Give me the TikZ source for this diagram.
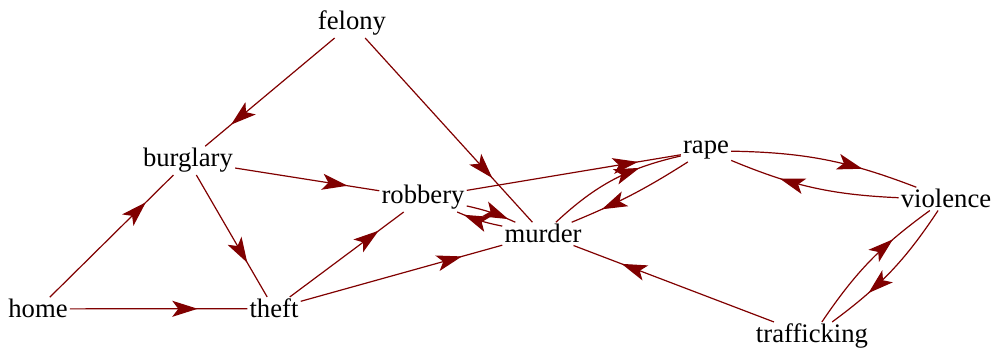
\documentclass[tikz,border=0pt]{standalone}
\usepackage{fontspec}
\setmainfont{Liberation Serif}
\usetikzlibrary{arrows.meta,decorations.markings}
\definecolor{edgered}{RGB}{128,0,0}
\tikzset{
  crime/.style={inner sep=1.5pt, anchor=base, font=\fontsize{20}{24}\selectfont},
  link/.style={color=edgered, line width=0.9pt, postaction={decorate},
    decoration={markings, mark=at position #1 with {\arrow{Stealth[length=19pt,width=12pt,inset=4.5pt]}}}},
  link/.default=0.78
}

\begin{document}
\begin{tikzpicture}[x=0.75pt, y=-0.75pt]
  \useasboundingbox (0,0) rectangle (992,352);
  % crimes
  \node[crime] (felony) at (352,30) {felony};
  \node[crime] (burglary) at (188,167) {burglary};
  \node[crime] (robbery) at (423,204) {robbery};
  \node[crime] (murder) at (543,243) {murder};
  \node[crime] (rape) at (706,154) {rape};
  \node[crime] (violence) at (946,208) {violence};
  \node[crime] (home) at (38,318) {home};
  \node[crime] (theft) at (274,318) {theft};
  \node[crime] (trafficking) at (812,343) {trafficking};
  % links
  \draw[link=0.8] (felony) -- (burglary);
  \draw[link=0.76] (felony) -- (murder);
  \draw[link] (home) -- (burglary);
  \draw[link=0.72] (home) -- (theft);
  \draw[link=0.72] (burglary) -- (theft);
  \draw[link] (burglary) -- (robbery);
  \draw[link] (theft) -- (robbery);
  \draw[link=0.8] (theft) -- (murder);
  \draw[link=0.85] (robbery) to[bend left=6] (murder);
  \draw[link=0.85] (murder) to[bend left=6] (robbery);
  \draw[link=0.8] (robbery) -- (rape);
  \draw[link=0.7] (murder) to[bend left=15] (rape);
  \draw[link=0.75] (rape) to[bend left=5] (murder);
  \draw[link=0.7] (rape) to[bend left=10] (violence);
  \draw[link=0.7] (violence) to[bend left=10] (rape);
  \draw[link=0.7] (trafficking) to[bend left=10] (violence);
  \draw[link=0.7] (violence) to[bend left=10] (trafficking);
  \draw[link=0.76] (trafficking) -- (murder);
\end{tikzpicture}
\end{document}
